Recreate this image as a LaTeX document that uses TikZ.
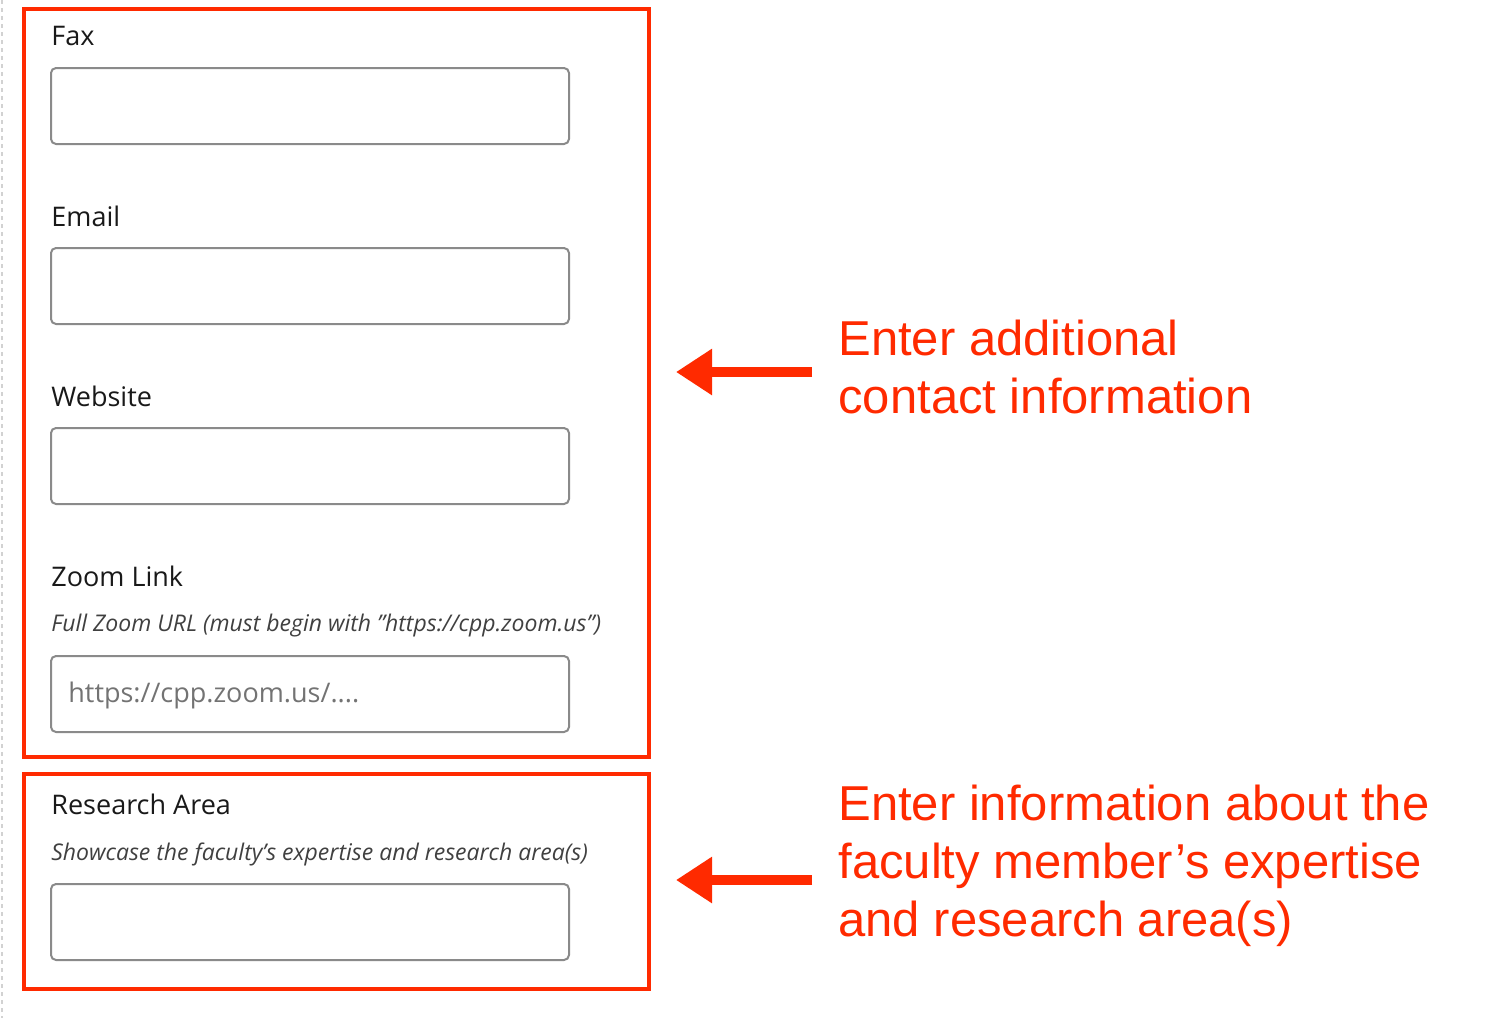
\documentclass[tikz,border=0pt]{standalone}
\usepackage{fontspec}
\setmainfont{Open Sans}
\newfontfamily\arialf{Liberation Sans}
\usetikzlibrary{arrows.meta}
\definecolor{rd}{HTML}{FF2A00}
\definecolor{fld}{HTML}{8A8A8A}
\begin{document}
\begin{tikzpicture}[x=0.5pt,y=-0.5pt,
  frame/.style={draw=rd,line width=2pt},
  field/.style={draw=fld,line width=1pt,rounded corners=2.5pt},
  lbl/.style={anchor=west,inner sep=0pt,font=\fontsize{13.5}{16}\selectfont,text=black!90},
  hint/.style={anchor=west,inner sep=0pt,font=\fontsize{11.5}{14}\selectfont\itshape,text=black!75},
  note/.style={anchor=north west,inner sep=0pt,align=left,text=rd,font=\arialf\fontsize{24.5}{29}\selectfont},
  arr/.style={draw=rd,line width=5pt,-{Triangle[length=18pt,width=22pt]}}]
\useasboundingbox (0,0) rectangle (1490,1018);
\draw[gray!35,line width=1pt,dash pattern=on 2pt off 2pt] (2,0) -- (2,1018);
\draw[frame] (24,9) rectangle (649,757);
\draw[frame] (24,774) rectangle (649,989);
\node[lbl] (lfax) at (51,36) {Fax};
\draw[field] (51,68) rectangle (569,144);
\node[lbl] (lemail) at (51,216) {Email};
\draw[field] (51,248) rectangle (569,324);
\node[lbl] (lweb) at (51,396) {Website};
\draw[field] (51,428) rectangle (569,504);
\node[lbl] (lzoom) at (51,576) {Zoom Link};
\node[hint] (hzoom) at (51,626) {Full Zoom URL (must begin with "https://cpp.zoom.us")};
\draw[field] (51,656) rectangle (569,732);
\node[anchor=west,inner sep=0pt,font=\fontsize{13.5}{16}\selectfont,text=black!55] (pzoom) at (68,695) {https://cpp.zoom.us/....};
\node[lbl] (lres) at (51,804) {Research Area};
\node[hint] (hres) at (51,854) {Showcase the faculty's expertise and research area(s)};
\draw[field] (51,884) rectangle (569,960);
\coordinate (t1) at (812,372);
\coordinate (h1) at (676,372);
\coordinate (t2) at (812,880);
\coordinate (h2) at (676,880);
\draw[arr] (t1) -- (h1);
\draw[arr] (t2) -- (h2);
\node[note] (n1) at (838,320) {Enter additional\\contact information};
\node[note] (n2) at (838,785) {Enter information about the\\faculty member’s expertise\\and research area(s)};
\end{tikzpicture}
\end{document}
